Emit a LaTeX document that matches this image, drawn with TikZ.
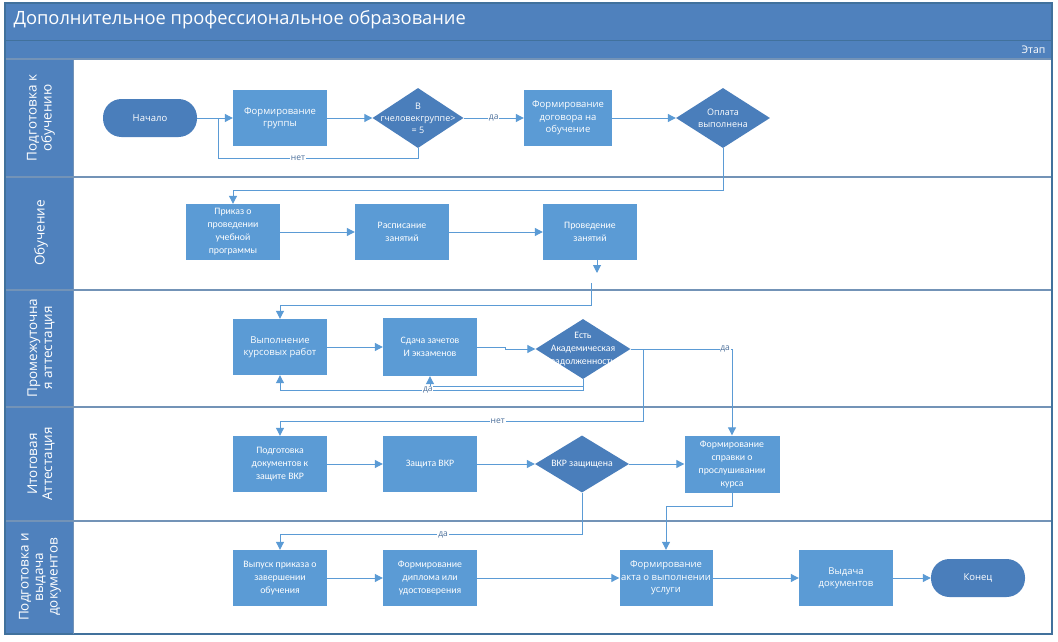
\documentclass[tikz,border=0pt]{standalone}
\usepackage{fontspec}
\setmainfont{Open Sans}
\newfontfamily\calib{Carlito}
\usetikzlibrary{shapes.geometric,arrows.meta}
\definecolor{hdr}{HTML}{4F81BD}
\definecolor{hdrdark}{HTML}{41719C}
\definecolor{boxc}{HTML}{5B9BD5}
\definecolor{decc}{HTML}{4A7EBB}
\definecolor{linec}{HTML}{5B9BD5}
\definecolor{sepc}{HTML}{7393B7}
\definecolor{lblc}{HTML}{4A6E9A}
\tikzset{
  box/.style={rectangle, fill=boxc, minimum width=94pt, minimum height=56pt, inner sep=1pt,
    align=center, text=white, font=\fontsize{9.5}{12.5}\selectfont},
  cbox/.style={box, font=\calib\fontsize{9.8}{13}\selectfont},
  dec/.style={diamond, fill=decc, minimum width=94pt, minimum height=60pt, inner sep=0pt},
  dtext/.style={text=white, align=center, font=\fontsize{9}{12}\selectfont},
  cdtext/.style={text=white, align=center, font=\calib\fontsize{9.8}{13}\selectfont},
  term/.style={rectangle, rounded corners=18.5pt, fill=decc, minimum width=94pt, minimum height=38pt,
    text=white, font=\fontsize{9.5}{12}\selectfont},
  arr/.style={draw=linec, line width=1pt, -{Triangle[length=8pt,width=8pt]}},
  ln/.style={draw=linec, line width=1pt},
  lbl/.style={fill=white, text=lblc, font=\fontsize{8.5}{9}\selectfont, inner sep=0.8pt},
  lanetext/.style={rotate=90, text=white, align=center, font=\fontsize{13.5}{15}\selectfont},
  sep/.style={draw=sepc, line width=2pt}
}
\begin{document}
\begin{tikzpicture}[x=1pt,y=-1pt]
\useasboundingbox (0,0) rectangle (1058,642);
% frame and bars
\fill[white] (0,0) rectangle (1058,642);
\fill[hdr] (5,3) rectangle (1052,59);
\draw[hdrdark, line width=1pt] (5,40.5) -- (1052,40.5);
\fill[hdr] (5,59) rectangle (73,634);
\node[text=white, anchor=west, font=\fontsize{18.3}{22}\selectfont] (title) at (10,20) {Дополнительное профессиональное образование};
\node[text=white, anchor=east, font=\fontsize{10.5}{12}\selectfont] (etap) at (1049,50) {Этап};
\draw[sep] (5,59) -- (1052,59);
\draw[sep] (5,177) -- (1052,177);
\draw[sep] (5,290) -- (1052,290);
\draw[sep] (5,407) -- (1052,407);
\draw[sep] (5,521) -- (1052,521);
\draw[sep] (5,634) -- (1052,634);
\draw[hdrdark, line width=1.2pt] (5,3) rectangle (1052,634);
\draw[sepc, line width=1pt] (73,59) -- (73,634);
% lane titles
\node[lanetext] (l1) at (41,118) {Подготовка к\\обучению};
\node[lanetext] (l2) at (41,233) {Обучение};
\node[lanetext] (l3) at (41,348) {Промежуточна\\я аттестация};
\node[lanetext] (l4) at (41,464) {Итоговая\\Аттестация};
\node[lanetext, font=\fontsize{13.5}{14.5}\selectfont] (l5) at (40,577) {Подготовка и\\выдача\\документов};
% lane 1
\node[term] (start) at (150,118) {Начало};
\node[box] (grp) at (280,118) {Формирование\\группы};
\node[dec, minimum width=91pt, label={[dtext]center:{В\\гчеловекгруппе>\\= 5}}] (d1) at (418,118) {};
\node[box, minimum width=88pt] (dog) at (568,118) {Формирование\\договора на\\обучение};
\node[dec, label={[dtext]center:{Оплата\\выполнена}}] (pay) at (723,118) {};
% lane 2
\node[cbox] (prik) at (233,232) {Приказ о\\проведении\\учебной\\программы};
\node[cbox] (rasp) at (402,232) {Расписание\\занятий};
\node[cbox] (prov) at (590,232) {Проведение\\занятий};
% lane 3
\node[box] (vyp) at (280,347) {Выполнение\\курсовых работ};
\node[cbox, minimum height=58pt] (sdach) at (430,347) {Сдача зачетов\\И экзаменов};
\node[dec, minimum width=95pt, label={[cdtext]center:{Есть\\Академическая\\задолженность}}] (d2) at (583,349) {};
% lane 4
\node[cbox] (podg) at (280,464) {Подготовка\\документов к\\защите ВКР};
\node[cbox] (zasch) at (430,464) {Защита ВКР};
\node[dec, minimum height=57pt, label={[cdtext]center:{ВКР защищена}}] (d3) at (582,464) {};
\node[cbox, minimum height=57pt, minimum width=95pt] (spr) at (732,464) {Формирование\\справки о\\прослушивании\\курса};
% lane 5
\node[cbox] (vypusk) at (280,578) {Выпуск приказа о\\завершении\\обучения};
\node[cbox] (dipl) at (430,578) {Формирование\\диплома или\\удостоверения};
\node[box, minimum width=93pt] (akt) at (666,578) {Формирование\\акта о выполнении\\услуги};
\node[box] (vyd) at (846,578) {Выдача\\документов};
\node[term] (end) at (978,578) {Конец};
% coordinates
\coordinate (j1) at (218,118);
\coordinate (c8) at (597,273);
\coordinate (c9) at (591,283);
\coordinate (c12) at (643,421);
% connectors lane 1
\draw[arr] (start) -- (grp);
\draw[arr] (grp) -- (d1);
\draw[arr] (d1) -- node[lbl]{да} (dog);
\draw[ln] (d1.south) -- ++(0,10) -| node[lbl, pos=0.3]{нет} (j1);
\draw[arr] (dog) -- (pay);
\draw[arr] (pay.south) -- ++(0,42) -| (prik.north);
% lane 2
\draw[arr] (prik) -- (rasp);
\draw[arr] (rasp) -- (prov);
\draw[arr] (prov.south -| c8) -- (c8);
\draw[arr] (c9) -- ++(0,22) -| (vyp.north);
% lane 3
\draw[arr] (vyp) -- (sdach);
\draw[arr] (sdach.east) -- ++(28,0) |- (d2.west);
\draw[arr] (d2.south) -- ++(0,7) -| (sdach.south);
\draw[arr] (d2.south) -- ++(0,11) -| node[lbl, pos=0.256]{да} (vyp.south);
\draw[arr] (d2.east) -| (c12) -| node[lbl, pos=0.2]{нет} (podg.north);
\draw[arr] (d2.east) -| node[lbl, pos=0.466]{да} (spr.north);
% lane 4
\draw[arr] (podg) -- (zasch);
\draw[arr] (zasch) -- (d3);
\draw[arr] (d3) -- (spr);
\draw[arr] (d3.south) -- ++(0,42) -| node[lbl, pos=0.23]{да} (vypusk.north);
\draw[arr] (spr.south) -- ++(0,14) -| (akt.north);
% lane 5
\draw[arr] (vypusk) -- (dipl);
\draw[arr] (dipl) -- (akt);
\draw[arr] (akt) -- (vyd);
\draw[arr] (vyd) -- (end);
\end{tikzpicture}
\end{document}
